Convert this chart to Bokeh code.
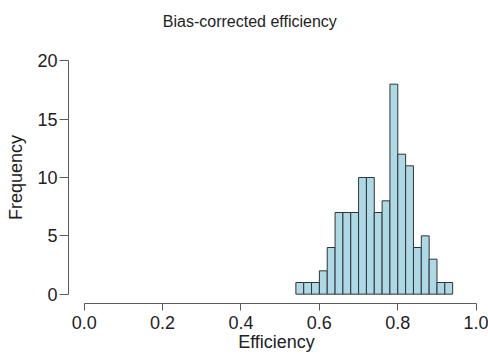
from bokeh.plotting import figure
from bokeh.models import FixedTicker, Range1d, LinearAxis
from bokeh.embed import file_html
from bokeh.resources import INLINE

# Histogram data (bins of width 0.02)
bin_left = [0.54, 0.56, 0.58, 0.60, 0.62, 0.64, 0.66, 0.68, 0.70, 0.72,
            0.74, 0.76, 0.78, 0.80, 0.82, 0.84, 0.86, 0.88, 0.90, 0.92]
bin_right = [0.56, 0.58, 0.60, 0.62, 0.64, 0.66, 0.68, 0.70, 0.72, 0.74,
             0.76, 0.78, 0.80, 0.82, 0.84, 0.86, 0.88, 0.90, 0.92, 0.94]
counts = [1, 1, 1, 2, 4, 7, 7, 7, 10, 10, 7, 8, 18, 12, 11, 4, 5, 3, 1, 1]

x_ticks = [0.0, 0.2, 0.4, 0.6, 0.8, 1.0]
x_tick_labels = ["0.0", "0.2", "0.4", "0.6", "0.8", "1.0"]
y_ticks = [0, 5, 10, 15, 20]
title_text = "Bias-corrected efficiency"

FONT = "Liberation Sans"
TXT = "#222222"
AX = "#5a5a5a"

p = figure(frame_width=416, frame_height=252,
           min_border_left=68, min_border_right=4,
           min_border_top=51, min_border_bottom=53,
           x_range=Range1d(-0.04, 1.0212), y_range=Range1d(-0.8, 20.8),
           output_backend="svg", toolbar_location=None)

p.quad(left=bin_left, right=bin_right, bottom=0, top=counts,
       fill_color="#add8e6", line_color="#333333", line_width=1)

p.grid.visible = False
p.outline_line_color = None
p.background_fill_color = "white"
p.border_fill_color = "white"

xax = p.below[0]
yax = p.left[0]

for ax in (xax, yax):
    ax.axis_line_color = AX
    ax.major_tick_line_color = AX
    ax.minor_tick_line_color = None
    ax.major_tick_in = 0
    ax.major_tick_out = 7
    ax.major_label_text_font = FONT
    ax.major_label_text_font_size = "18px"
    ax.major_label_text_color = TXT
    ax.axis_label_text_font = FONT
    ax.axis_label_text_font_size = "18px"
    ax.axis_label_text_font_style = "normal"
    ax.axis_label_text_color = TXT

xax.ticker = FixedTicker(ticks=x_ticks)
xax.major_label_overrides = {t: l for t, l in zip(x_ticks, x_tick_labels)}
xax.bounds = (0, 1)
xax.axis_label = "Efficiency"
xax.major_label_standoff = 5
xax.axis_label_standoff = 0

yax.ticker = FixedTicker(ticks=y_ticks)
yax.bounds = (0, 20)
yax.axis_label = "Frequency"
yax.major_label_orientation = "horizontal"
yax.major_tick_out = 9
yax.major_label_standoff = 2
yax.axis_label_standoff = 8

# Title: label of a bare axis above the frame (trailing no-break spaces
# shift its centre left, as in the original where it sits left of centre)
top_axis = LinearAxis(axis_label=title_text + "\u00a0" * 12,
                      ticker=FixedTicker(ticks=[]))
top_axis.axis_line_color = None
top_axis.major_tick_line_color = None
top_axis.minor_tick_line_color = None
top_axis.major_tick_out = 0
top_axis.major_tick_in = 0
top_axis.major_label_standoff = 0
top_axis.axis_label_standoff = 22
top_axis.axis_label_text_font = FONT
top_axis.axis_label_text_font_size = "16px"
top_axis.axis_label_text_font_style = "normal"
top_axis.axis_label_text_color = TXT
p.add_layout(top_axis, "above")

open("out.html", "w").write(file_html(p, INLINE))
